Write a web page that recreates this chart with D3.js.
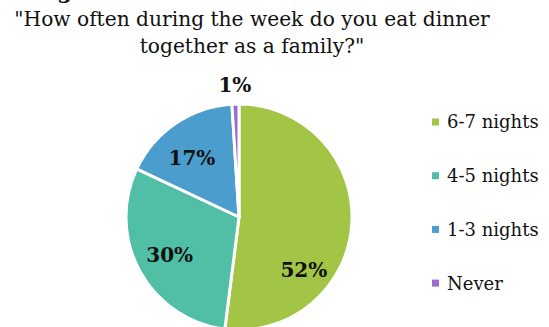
<!DOCTYPE html>
<html>
<head>
<meta charset="utf-8">
<script src="https://cdn.jsdelivr.net/npm/d3@7"></script>
<style>
  html, body { margin: 0; padding: 0; background: #fff; }
  svg { display: block; }
</style>
</head>
<body>
<svg id="chart" width="549" height="327"></svg>
<script>
// Survey answers, in drawing order (clockwise from 12 o'clock)
const categories = ["6-7 nights", "4-5 nights", "1-3 nights", "Never"];
const shares = [52, 30, 17, 1];
const colors = ["#a2c545", "#50bfa5", "#4a9dcc", "#9c6bcf"];
const titleLines = ["\"How often during the week do you eat dinner", "together as a family?\""];

const svg = d3.select("#chart");
const serif = "'DejaVu Serif', 'Liberation Serif', serif";

// Heading, partly above the top edge
svg.append("text")
  .attr("x", 33).attr("y", -2)
  .attr("font-family", serif).attr("font-weight", "bold").attr("font-size", 22)
  .attr("fill", "#111").text("Figure");

svg.append("g").selectAll("text").data(titleLines).join("text")
  .attr("x", 252).attr("y", (d, i) => 26 + i * 27)
  .attr("text-anchor", "middle")
  .attr("font-family", serif).attr("font-size", 20.2)
  .attr("fill", "#111").text(d => d);

// Pie
const cx = 239, cy = 217, r = 113;
const color = d3.scaleOrdinal().domain(categories).range(colors);
const pie = d3.pie().sort(null).value(d => d.v);
const data = pie(categories.map((c, i) => ({ c, v: shares[i] })));
const arc = d3.arc().innerRadius(0).outerRadius(r);

const g = svg.append("g").attr("transform", `translate(${cx},${cy})`);
g.selectAll("path").data(data).join("path")
  .attr("d", arc)
  .attr("fill", d => color(d.data.c))
  .attr("stroke", "#fff").attr("stroke-width", 3).attr("stroke-linejoin", "round");

// Value labels: t = position along the slice's sweep, k = fraction of radius
const labelPlace = [{ t: 0.69, k: 0.74 }, { t: 0.5, k: 0.70 }, { t: 0.43, k: 0.67 }, { t: 0.5, k: 1.17 }];
g.selectAll("text.val").data(data).join("text")
  .attr("class", "val")
  .attr("transform", (d, i) => {
    const p = labelPlace[i];
    const a = d.startAngle + (d.endAngle - d.startAngle) * p.t;
    const rr = r * p.k;
    return `translate(${rr * Math.sin(a)},${-rr * Math.cos(a)})`;
  })
  .attr("text-anchor", "middle").attr("dy", "0.36em")
  .attr("font-family", serif).attr("font-weight", "bold").attr("font-size", 20)
  .attr("fill", "#111").text(d => d.data.v + "%");

// Legend
const legend = svg.append("g").attr("transform", "translate(432,122)");
const rows = legend.selectAll("g").data(categories).join("g")
  .attr("transform", (d, i) => `translate(0,${i * 53.7})`);
rows.append("rect").attr("x", 0).attr("y", -3.5).attr("width", 7).attr("height", 7)
  .attr("fill", d => color(d));
rows.append("text").attr("x", 15).attr("dy", "0.36em")
  .attr("font-family", serif).attr("font-size", 18).attr("fill", "#111")
  .text(d => d);
</script>
</body>
</html>
